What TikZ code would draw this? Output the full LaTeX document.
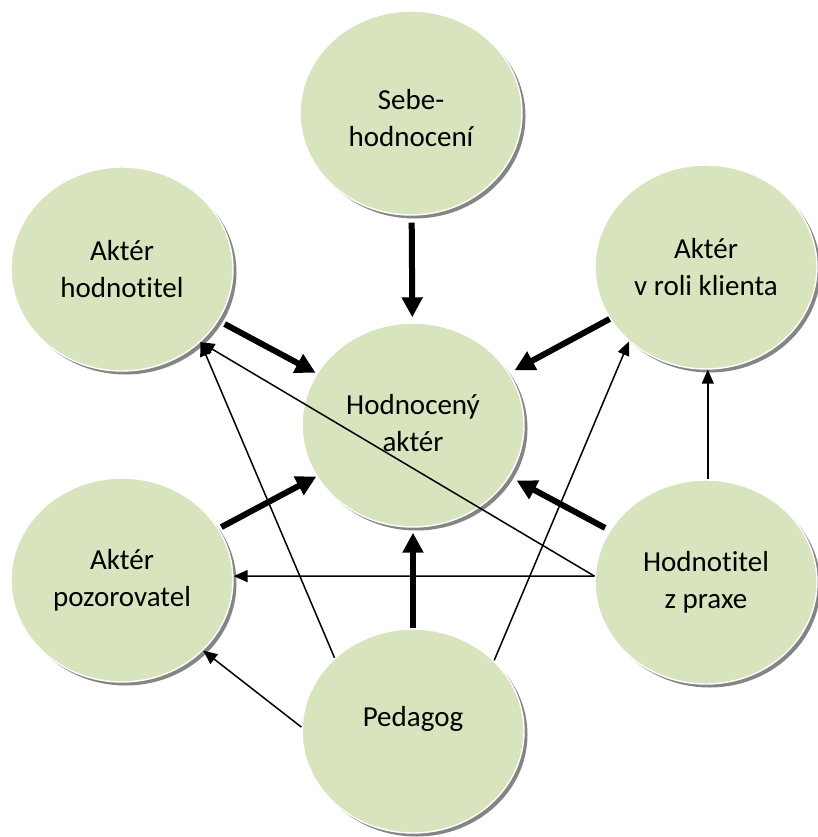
\documentclass[tikz,border=0pt]{standalone}
\usepackage{fontspec}
\setmainfont{Carlito}[Ligatures=NoCommon]
\usetikzlibrary{shapes.geometric,arrows.meta,shadows}
\definecolor{bubblefill}{HTML}{D7E4BD}
\definecolor{bubbleshade}{HTML}{858585}
\begin{document}
\begin{tikzpicture}[x=1pt,y=-1pt,
  bubble/.style={ellipse, minimum width=222pt, minimum height=204pt, inner sep=0pt,
    fill=bubblefill, draw=white, line width=1.4pt,
    general shadow={fill=bubbleshade, shadow xshift=3.5pt, shadow yshift=-3.5pt}},
  caption/.style={align=center, inner sep=0pt, font=\fontsize{29}{37}\selectfont},
  heavy/.style={line width=6pt, -{Triangle[length=20pt,width=20pt]}},
  light/.style={line width=1.5pt, -{Triangle[length=14pt,width=12pt]}}]
\useasboundingbox (0,0) rectangle (818,837);

% actors
\node[bubble, label={[caption, yshift=-5pt]center:{Sebe-\\hodnocení}}] (S) at (411,113) {};
\node[bubble, label={[caption]center:{Aktér\\hodnotitel}}] (AH) at (122,269) {};
\node[bubble, label={[caption]center:{Aktér\\v roli klienta}}] (AK) at (706,267) {};
\node[bubble, label={[caption, yshift=2pt]center:{Hodnocený\\aktér}}] (H) at (413,425) {};
\node[bubble, label={[caption]center:{Aktér\\pozorovatel}}] (AP) at (122,580) {};
\node[bubble, label={[caption]center:{Hodnotitel\\z praxe}}] (HP) at (706,582) {};
\node[bubble, label={[caption, yshift=12pt]center:{Pedagog}}] (P) at (413,731) {};

% heavy arrows into the assessed actor
\draw[heavy, shorten <=7pt, shorten >=5pt] (S) -- (H);
\draw[heavy, shorten <=7pt, shorten >=1pt] (AH) -- (H);
\draw[heavy, shorten >=6pt] (AK) -- (H);
\draw[heavy, shorten <=3pt] (AP) -- (H);
\draw[heavy, shorten <=5pt, shorten >=8pt] (HP) -- (H);
\draw[heavy, shorten >=5pt] (P) -- (H);

% light arrows between the other actors
\draw[light] (HP.89) -- (AK.-89);
\draw[light] (HP.177) -- (AH.-43);
\draw[light] (HP.177) -- (AP.2);
\draw[light] (P.137) -- (AH.-43);
\draw[light] (P.41) -- (AK.224);
\draw[light] (P.178) -- (AP.-41);
\end{tikzpicture}
\end{document}
